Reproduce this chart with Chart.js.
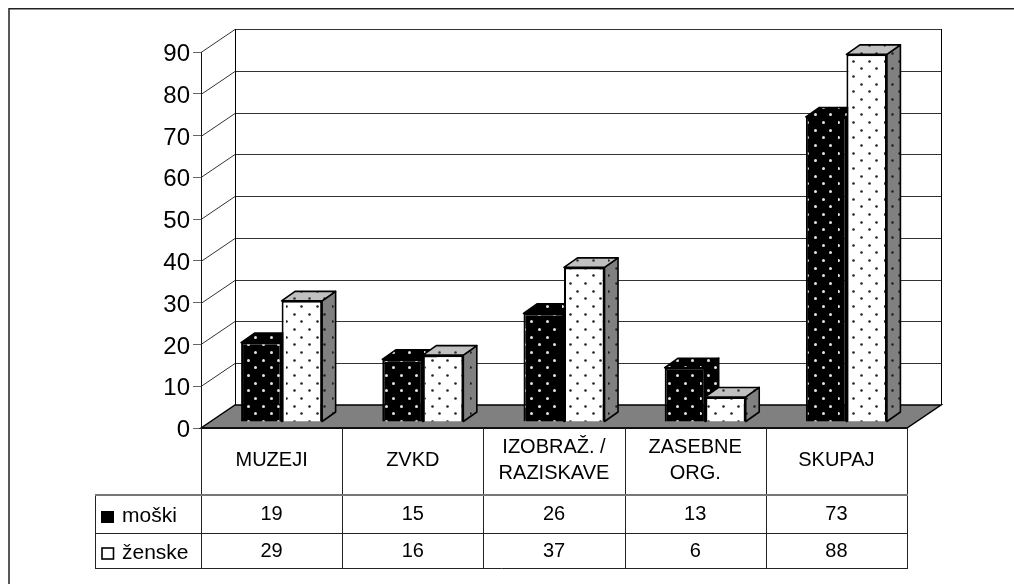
<!DOCTYPE html>
<html><head><meta charset="utf-8">
<style>html,body{margin:0;padding:0;background:#fff}canvas{display:block}</style>
<script src="https://cdn.jsdelivr.net/npm/chart.js@4"></script>
</head><body><canvas id="c" width="1014" height="584"></canvas>
<script>
const categories = [["MUZEJI"],["ZVKD"],["IZOBRAŽ. /","RAZISKAVE"],["ZASEBNE","ORG."],["SKUPAJ"]];
const moski = [19,15,26,13,73];
const zenske = [29,16,37,6,88];
const seriesNames = ["moški","ženske"];
const yMax = 90;
const yStep = 10;

const FONT = '"Liberation Sans", Arial, sans-serif';
const WALL = {dx:34, dy:-23};
const SHIFT = {dx:10, dy:-6};
const DEPTH = {dx:13.5, dy:-9.5};

function dots(bg, dot, radius){
  const t = document.createElement('canvas'); t.width = t.height = 46;
  const g = t.getContext('2d');
  g.fillStyle = bg; g.fillRect(0,0,46,46);
  g.fillStyle = dot;
  const ox = 276 % 46, oy = 312 % 46;
  for (let i=0;i<3;i++) for (let j=0;j<3;j++) for (const [a,b] of [[0,0],[7.67,7.67]]) {
    const x = Math.round(ox + a + i*15.33) % 46, y = Math.round(oy + b + j*15.33) % 46;
    g.beginPath(); g.arc(x+.5, y+.5, radius, 0, Math.PI*2); g.fill();
  }
  return g.createPattern(t,'repeat');
}
const ctx0 = document.getElementById('c').getContext('2d');
const pMale = dots('#000','#e4e4e4',1.5);
const pFemale = dots('#fff','#222',1.3);
const pSide = dots('#808080','#222',1.3);
const pTop = dots('#c0c0c0','#333',1.3);

function poly(ctx, pts, fill){
  ctx.beginPath();
  pts.forEach((p,i)=> i ? ctx.lineTo(p[0],p[1]) : ctx.moveTo(p[0],p[1]));
  ctx.closePath();
  if (fill){ ctx.fillStyle = fill; ctx.fill(); }
  ctx.stroke();
}

const scene = {
  id:'scene',
  beforeDraw(chart){
    const y = chart.scales.y;
    if (!y.$shifted){
      y.getLabelItems(chart.chartArea).forEach(i=>{ i.textOffset += 2.5; });
      y.$shifted = true;
    }
  },
  beforeDatasetsDraw(chart){
    const {ctx, chartArea:a, scales:{y}} = chart;
    ctx.save();
    ctx.lineWidth = 1; ctx.strokeStyle = '#333';
    y.ticks.forEach(t=>{
      const py = Math.round(y.getPixelForValue(t.value))+.5;
      ctx.beginPath();
      ctx.moveTo(a.left,py);
      ctx.lineTo(a.left+WALL.dx,py+WALL.dy);
      ctx.lineTo(a.right+WALL.dx,py+WALL.dy);
      ctx.stroke();
    });
    ctx.strokeStyle = '#000';
    const topP = y.getPixelForValue(yMax)+WALL.dy, botP = a.bottom+WALL.dy;
    ctx.beginPath();
    ctx.moveTo(a.left+WALL.dx+.5,topP); ctx.lineTo(a.left+WALL.dx+.5,botP);
    ctx.moveTo(a.right+WALL.dx+.5,topP); ctx.lineTo(a.right+WALL.dx+.5,botP);
    ctx.stroke();
    ctx.lineWidth = 1.5;
    poly(ctx,[[a.left,a.bottom],[a.left+WALL.dx,botP],[a.right+WALL.dx,botP],[a.right,a.bottom]],'#808080');
    ctx.translate(SHIFT.dx, SHIFT.dy);
    ctx.lineWidth = 1.6; ctx.strokeStyle = '#000'; ctx.lineJoin = 'round';
    [0,1].forEach(idx=>{
      const female = idx === 1;
      chart.getDatasetMeta(idx).data.forEach(b=>{
        const l = b.x-b.width/2, r = b.x+b.width/2;
        poly(ctx,[[r,b.y],[r+DEPTH.dx,b.y+DEPTH.dy],[r+DEPTH.dx,b.base+DEPTH.dy],[r,b.base]], female?pSide:pMale);
        poly(ctx,[[l,b.y],[l+DEPTH.dx,b.y+DEPTH.dy],[r+DEPTH.dx,b.y+DEPTH.dy],[r,b.y]], female?pTop:pMale);
      });
    });
    ctx.restore();
  },
  beforeDatasetDraw(chart){
    chart.ctx.save();
    chart.ctx.translate(SHIFT.dx, SHIFT.dy);
  },
  afterDatasetDraw(chart){ chart.ctx.restore(); },
  afterDatasetsDraw(chart){
    const {ctx, chartArea:a, scales:{x}} = chart;
    const cellW = (a.right-a.left)/categories.length;
    const rows = [495,533,568], leftX = 95;
    ctx.save();
    ctx.strokeStyle = '#111'; ctx.lineWidth = 2;
    ctx.beginPath(); ctx.moveTo(a.left,a.bottom); ctx.lineTo(a.right,a.bottom); ctx.stroke();
    ctx.lineWidth = 1; ctx.strokeStyle = '#222';
    ctx.beginPath();
    for (let k=0;k<=categories.length;k++){
      const vx = Math.round(a.left+k*cellW)+.5;
      ctx.moveTo(vx,a.bottom); ctx.lineTo(vx,rows[2]+.5);
    }
    ctx.moveTo(leftX+.5,rows[0]); ctx.lineTo(leftX+.5,rows[2]+.5);
    ctx.moveTo(leftX,rows[1]+.5); ctx.lineTo(a.right,rows[1]+.5);
    ctx.moveTo(leftX,rows[2]+.5); ctx.lineTo(a.right+1,rows[2]+.5);
    ctx.stroke();
    ctx.strokeStyle = '#777'; ctx.lineWidth = 2;
    ctx.beginPath(); ctx.moveTo(leftX,rows[0]); ctx.lineTo(a.right+1,rows[0]); ctx.stroke();
    ctx.fillStyle = '#000'; ctx.textBaseline = 'middle'; ctx.textAlign = 'center';
    ctx.font = '20px '+FONT;
    [moski,zenske].forEach((vals,r)=>{
      const cy = r ? 551.5 : 514.5;
      vals.forEach((v,i)=> ctx.fillText(String(v), x.getPixelForTick(i), cy));
    });
    ctx.textAlign = 'left'; ctx.font = '21px '+FONT;
    ctx.fillText(seriesNames[0],122,516.5);
    ctx.fillText(seriesNames[1],122,553.5);
    ctx.fillStyle = '#000'; ctx.fillRect(101,511,13,12);
    ctx.strokeStyle = '#000'; ctx.lineWidth = 1.6;
    ctx.strokeRect(102,548,11.5,11);
    ctx.strokeStyle = '#222'; ctx.lineWidth = 1.5;
    ctx.beginPath(); ctx.moveTo(1014,8.75); ctx.lineTo(9,8.75); ctx.lineTo(9,584); ctx.stroke();
    ctx.restore();
  }
};

new Chart(ctx0, {
  type:'bar',
  plugins:[scene],
  data:{
    labels:categories,
    datasets:[
      {label:seriesNames[0], data:moski, backgroundColor:pMale, borderColor:'#000', borderWidth:2, clip:false},
      {label:seriesNames[1], data:zenske, backgroundColor:pFemale, borderColor:'#000', borderWidth:2, clip:false}
    ]
  },
  options:{
    responsive:false, animation:false,
    layout:{padding:{top:52,right:107,left:0,bottom:0}},
    plugins:{legend:{display:false},title:{display:false},tooltip:{enabled:false}},
    datasets:{bar:{categoryPercentage:0.574,barPercentage:1}},
    scales:{
      x:{
        grid:{display:false}, border:{display:false},
        ticks:{color:'#000',font:{family:FONT,size:20,lineHeight:1.34},padding:11,crossAlign:'center',maxRotation:0,autoSkip:false},
        afterFit(s){ s.height = 156; }
      },
      y:{
        min:0,max:yMax,
        grid:{drawOnChartArea:false,drawTicks:true,tickLength:8,color:'#666'},
        border:{display:true,color:'#111',width:1},
        ticks:{stepSize:yStep,color:'#000',font:{family:FONT,size:24},padding:3},
        afterFit(s){ s.width = 201; }
      }
    }
  }
});
</script></body></html>
